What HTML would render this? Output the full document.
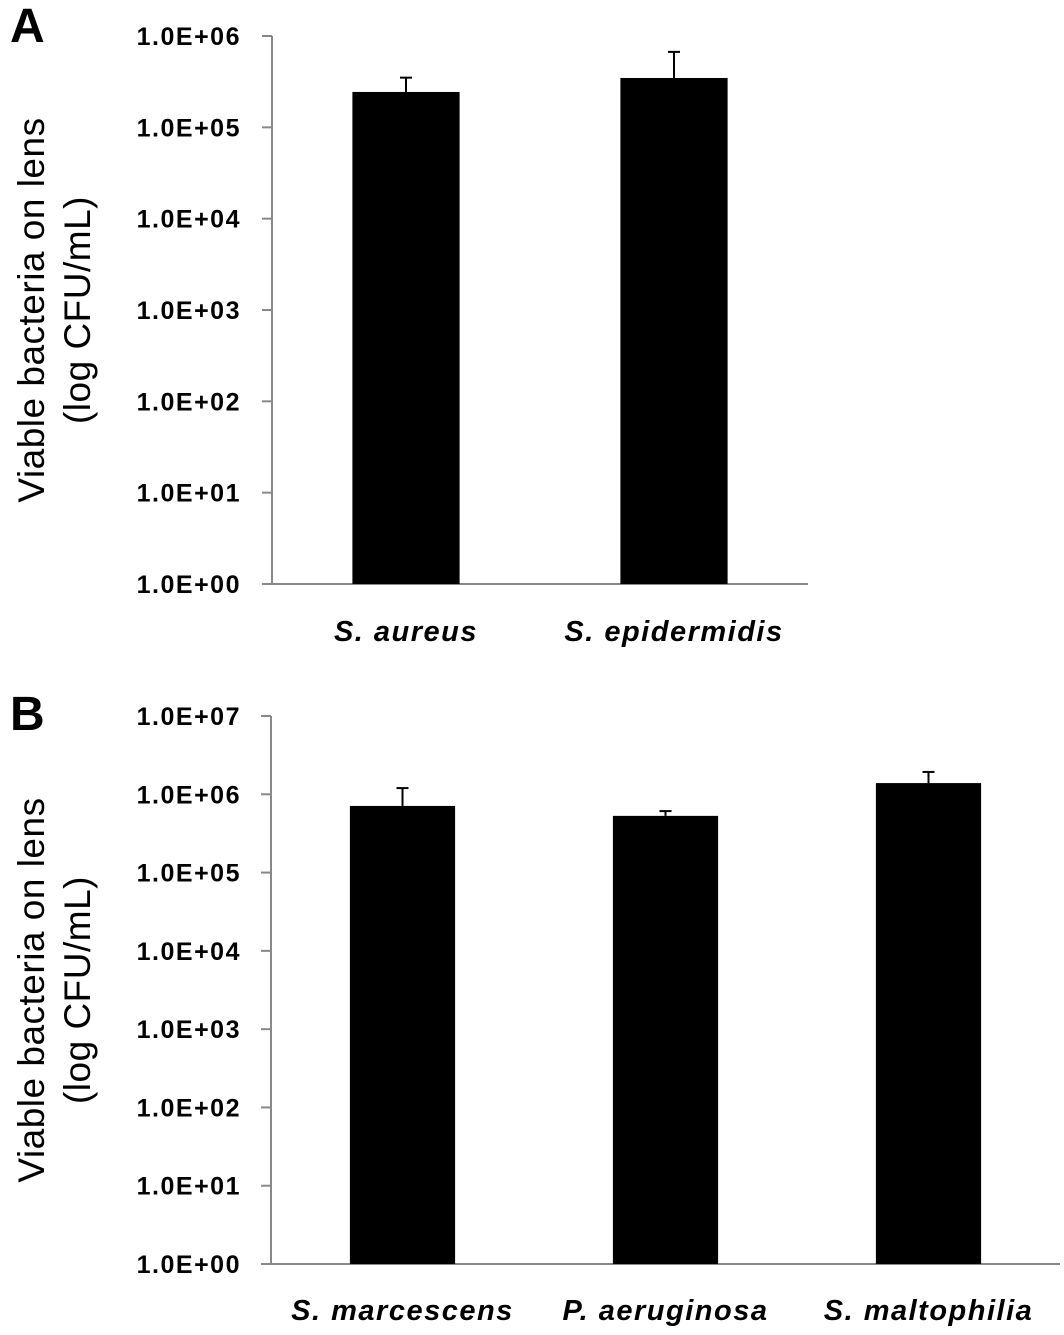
<!DOCTYPE html>
<html><head><meta charset="utf-8"><style>
body{margin:0;background:#fff;width:1064px;height:1330px;overflow:hidden}
svg{font-family:"Liberation Sans",sans-serif}
</style></head><body>
<svg id="chart" width="1064" height="1330"></svg>
<script>
const catsA=["S. aureus","S. epidermidis"];
const valsA=[2.44e5,3.47e5];
const errA=[3.5e5,6.7e5];
const ticksA=["1.0E+00","1.0E+01","1.0E+02","1.0E+03","1.0E+04","1.0E+05","1.0E+06"];
const catsB=["S. marcescens","P. aeruginosa","S. maltophilia"];
const valsB=[7.1e5,5.3e5,1.39e6];
const errB=[1.2e6,6.1e5,1.93e6];
const ticksB=["1.0E+00","1.0E+01","1.0E+02","1.0E+03","1.0E+04","1.0E+05","1.0E+06","1.0E+07"];
const NS="http://www.w3.org/2000/svg";
const svg=document.getElementById('chart');
function mk(t,a,p){const e=document.createElementNS(NS,t);for(const k in a)e.setAttribute(k,a[k]);(p||svg).appendChild(e);return e;}
function panel(id,letter,cats,vals,errs,ticks,x0,x1,yTop,yBot,letterY,labY){
  const g=mk('g',{});
  
  
  const n=ticks.length-1;
  const y=v=>yBot-(Math.log10(v))/n*(yBot-yTop);
  const L=mk('text',{x:10,y:letterY,'font-size':48,'font-weight':'bold'},g);L.textContent=letter;
  
  
  mk('line',{x1:x0,y1:yTop,x2:x0,y2:yBot,stroke:'#888','stroke-width':2},g);
  mk('line',{x1:x0-10,y1:yBot,x2:x1,y2:yBot,stroke:'#888','stroke-width':2},g);
  ticks.forEach((t,i)=>{
    const ty=y(Math.pow(10,i));
    mk('line',{x1:x0-10,y1:ty,x2:x0,y2:ty,stroke:'#888','stroke-width':2},g);
    const tx=mk('text',{x:241,y:ty+9,'text-anchor':'end','font-size':25,'font-weight':'bold','letter-spacing':1.5},g);tx.textContent=t;
    
    
  });
  const band=(x1-x0)/cats.length, bw=band*0.4;
  cats.forEach((c,i)=>{
    const cx=x0+band*(i+0.5);
    const top=y(vals[i]), et=y(errs[i]);
    mk('line',{x1:cx,y1:et,x2:cx,y2:top,stroke:'#000','stroke-width':2},g);
    const cap=mk('line',{x1:cx-6,y1:et,x2:cx+6,y2:et,stroke:'#000','stroke-width':2},g);
    
    
    const r=mk('rect',{x:cx-bw/2,y:top,width:bw,height:yBot-top,fill:'#000'},g);
    
    
    const t=mk('text',{x:cx,y:labY,'text-anchor':'middle','font-size':29,'font-weight':'bold','font-style':'italic','letter-spacing':1.5},g);t.textContent=c;
    
    
  });
  const cy=(yTop+yBot)/2;
  const tt=mk('text',{transform:`translate(0,${cy}) rotate(-90)`,'font-size':37,'text-anchor':'middle','letter-spacing':0.5},g);
  const s1=mk('tspan',{x:0,y:44},tt);s1.textContent='Viable bacteria on lens';
  const s2=mk('tspan',{x:0,y:90},tt);s2.textContent='(log CFU/mL)';
  
  
}
panel('a','A',catsA,valsA,errA,ticksA,272,808,36,584,42,641);
panel('b','B',catsB,valsB,errB,ticksB,271,1060,716,1264,730,1320);
</script>
</body></html>
